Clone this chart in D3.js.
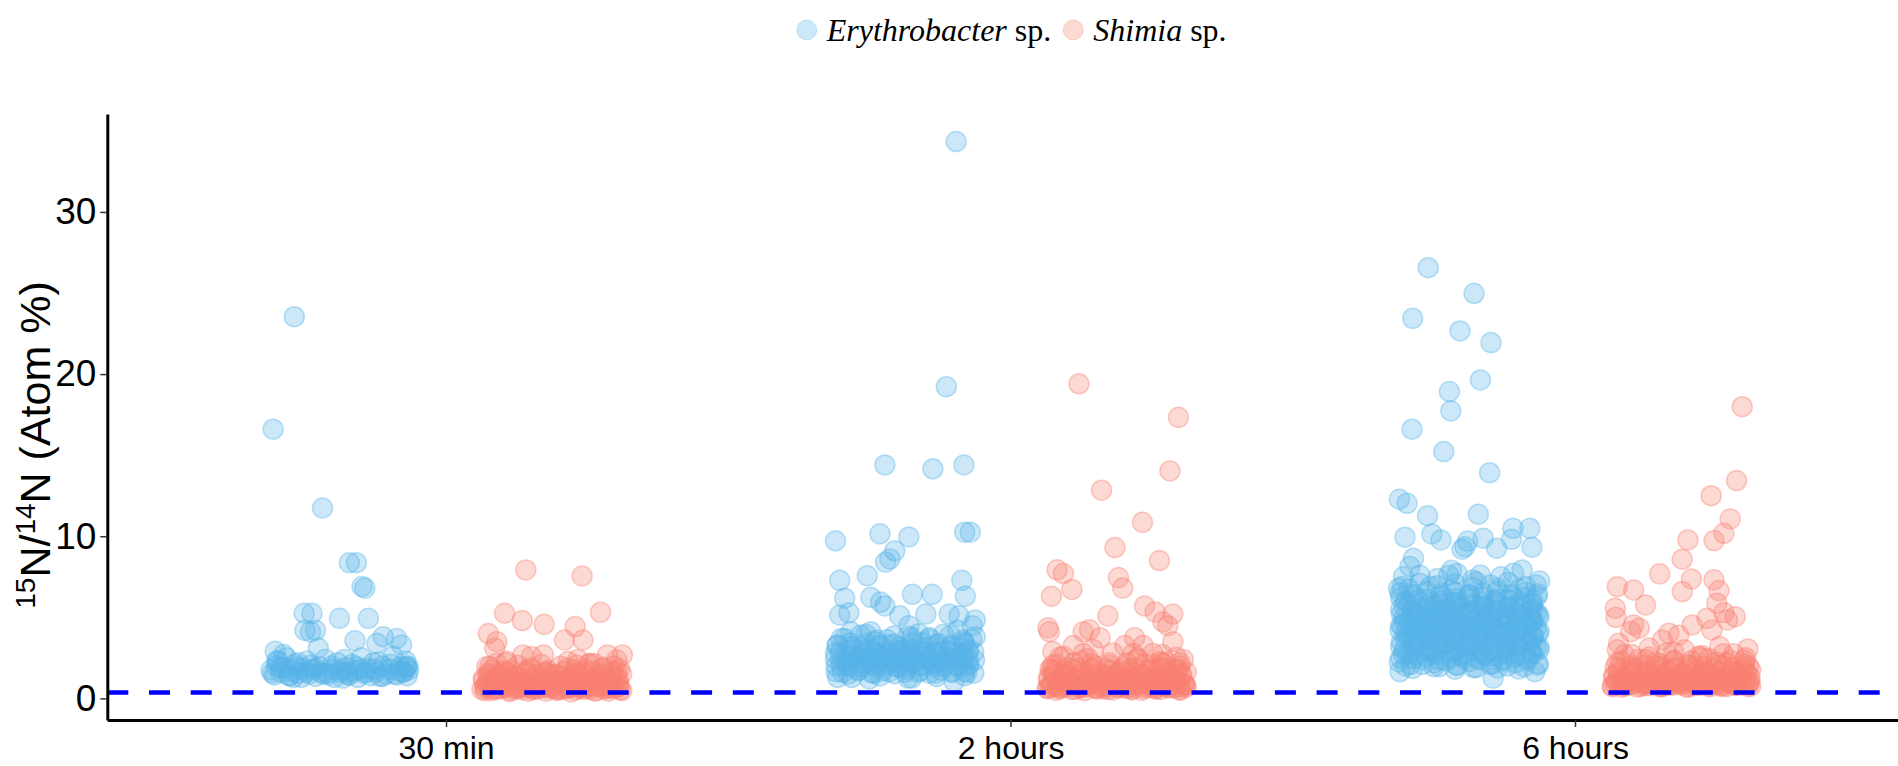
<!DOCTYPE html>
<html>
<head>
<meta charset="utf-8">
<script src="https://cdn.jsdelivr.net/npm/d3@7"></script>
<style>
  html, body { margin: 0; padding: 0; background: #fff; }
  svg { display: block; }
</style>
</head>
<body>
<svg id="chart" width="1898" height="766"></svg>
<script>
// Sampling times (x categories) and the two strains (dodged groups)
const timepoints = ["30 min", "2 hours", "6 hours"];
const species = ["Erythrobacter", "Shimia"];
const speciesColors = ["#56B4E9", "#FA8072"];
// Natural 15N abundance, drawn as the dashed reference line
const naturalAbundance = 0.366;
const yTicks = [0, 10, 20, 30];

// Single-cell measurements: [horizontal jitter (-1..1), 15N/14N atom %]
const erythrobacter30min = [
  [-0.65,23.54],[-0.95,16.6],[-0.25,11.74],[0.13,8.37],[0.23,8.37],[0.31,6.9],[0.35,6.8],
  [-0.51,5.25],[-0.4,5.25],[-0.01,4.94],[0.4,4.94],[-0.5,4.2],[-0.35,4.2],[-0.42,4.1],
  [-0.31,3.1],[0.21,3.56],[0.61,3.8],[0.8,3.7],[0.87,3.3],[0.52,3.4],[-0.92,2.9],[-0.8,2.7],
  [0.94,1.96],[0.9,1.65],
  [-0.98,1.75],[-0.93,1.45],[-0.88,2.3],[-0.84,1.6],[-0.8,1.9],[-0.76,2.5],[-0.72,1.4],[-0.68,1.7],
  [-0.64,2.1],[-0.6,1.55],[-0.55,1.3],[-0.52,1.85],[-0.47,2.3],[-0.44,1.5],[-0.4,1.75],[-0.35,1.35],
  [-0.3,1.95],[-0.26,1.6],[-0.21,2.4],[-0.17,1.45],[-0.12,1.8],[-0.08,1.3],[-0.04,2.2],[0.0,1.6],
  [0.04,1.25],[0.08,1.9],[0.12,1.45],[0.17,2.1],[0.21,1.7],[0.25,1.3],[0.3,2.5],[0.34,1.55],
  [0.38,1.85],[0.43,1.4],[0.47,2.2],[0.51,1.65],[0.56,1.35],[0.6,2.0],[0.65,1.5],[0.7,1.8],
  [0.75,2.6],[0.8,1.45],[0.85,1.95],[0.89,1.6],[0.93,2.3],[0.97,1.75],[0.95,1.4],[-0.9,2.0],
  [-0.62,1.9],[0.1,1.6],
  [-0.96,1.55],[-0.84,1.9],[-0.72,1.4],[-0.6,2.2],[-0.48,1.65],[-0.36,1.85],[-0.24,1.5],[-0.12,2.0],
  [0.0,1.75],[0.12,1.45],[0.24,1.95],[0.36,1.6],[0.48,1.8],[0.6,1.35],[0.72,2.1],[0.84,1.7],[0.96,2.0],
  [-0.9,2.3],[-0.66,1.3],[-0.42,2.05],[-0.18,1.55],[0.06,2.4],[0.3,1.8],[0.54,2.25],[0.78,1.5],[0.94,1.9]
];
const shimia30min = [
  [-0.37,7.92],[0.43,7.55],[0.69,5.31],[-0.67,5.25],[-0.42,4.8],[-0.11,4.57],[0.33,4.43],
  [-0.9,4.0],[-0.78,3.5],[0.18,3.6],[0.44,3.6],[-0.81,3.1],[-0.29,2.58],[-0.12,2.68],
  [0.79,2.68],[1.0,2.68],[0.92,2.37],[0.23,2.27],[0.37,2.4],[0.54,2.17],[-0.78,2.17],
  [-0.64,2.3],[-0.92,1.96],[-0.41,2.68],
  [-0.95,0.48],[-0.78,0.55],[-0.6,0.42],[-0.42,0.52],[-0.25,0.58],[-0.08,0.45],[0.1,0.53],
  [0.27,0.4],[0.45,0.56],[0.62,0.47],[0.8,0.44],[0.97,0.54],
  [-0.85,0.62],[-0.65,0.68],[-0.48,0.6],[-0.3,0.66],[-0.13,0.7],[0.05,0.6],[0.22,0.67],
  [0.4,0.63],[0.57,0.72],[0.75,0.61],[0.92,0.66],
  [-0.88,0.82],[-0.7,0.76],[-0.52,0.9],[-0.35,0.8],[-0.18,0.88],[0.0,0.74],[0.18,0.92],
  [0.36,0.8],[0.54,0.86],[0.71,0.78],[0.89,0.88],
  [-0.92,0.98],[-0.74,0.95],[-0.56,1.03],[-0.38,0.94],[-0.2,1.0],[-0.03,0.96],[0.14,1.04],
  [0.32,0.95],[0.5,1.0],[0.67,0.97],[0.84,1.02],
  [-0.97,1.1],[-0.8,1.18],[-0.63,1.06],[-0.46,1.22],[-0.28,1.12],[-0.1,1.16],[0.07,1.08],
  [0.24,1.2],[0.42,1.1],[0.6,1.17],[0.77,1.06],[0.94,1.14],
  [-0.9,1.42],[-0.72,1.52],[-0.55,1.38],[-0.37,1.56],[-0.2,1.44],[-0.02,1.5],[0.16,1.38],
  [0.33,1.54],[0.51,1.45],[0.68,1.48],[0.86,1.41],
  [-0.84,1.8],[-0.58,1.75],[-0.31,1.9],[-0.05,1.72],[0.22,1.86],[0.48,1.78],[0.74,1.92],[0.96,1.82],
  [-0.65,2.2],[-0.15,2.1],[0.35,2.05],[0.6,2.15],[0.88,2.0],
  [-0.99,0.55],[-0.86,0.47],[-0.73,0.62],[-0.59,0.5],[-0.46,0.66],[-0.33,0.44],[-0.19,0.58],[-0.06,0.63],
  [0.07,0.49],[0.21,0.6],[0.34,0.52],[0.47,0.67],[0.61,0.45],[0.74,0.57],[0.87,0.62],[0.99,0.48],
  [-0.93,0.78],[-0.8,0.92],[-0.66,0.72],[-0.53,0.85],[-0.39,0.97],[-0.26,0.75],[-0.13,0.88],[0.0,0.82],
  [0.14,0.95],[0.27,0.71],[0.41,0.87],[0.54,0.79],[0.68,0.93],[0.81,0.84],[0.94,0.74],
  [-0.97,1.25],[-0.83,1.05],[-0.7,1.32],[-0.56,1.15],[-0.43,1.02],[-0.29,1.28],[-0.16,1.12],[-0.02,1.35],
  [0.11,1.04],[0.25,1.22],[0.38,1.3],[0.52,1.08],[0.65,1.26],[0.79,1.18],[0.92,1.33],
  [-0.9,1.55],[-0.76,1.35],[-0.63,1.62],[-0.49,1.44],[-0.36,1.7],[-0.22,1.38],[-0.09,1.6],[0.05,1.47],
  [0.18,1.66],[0.32,1.34],[0.45,1.58],[0.59,1.68],[0.72,1.4],[0.86,1.63],[0.99,1.5],
  [-0.95,0.68],[-0.81,0.58],[-0.68,0.8],[-0.54,0.62],[-0.41,0.74],[-0.27,0.55],[-0.14,0.86],[0.0,0.66],
  [0.13,0.6],[0.27,0.83],[0.4,0.7],[0.54,0.57],[0.67,0.76],[0.81,0.65],[0.95,0.88],
  [-0.88,1.95],[-0.68,1.7],[-0.48,2.05],[-0.28,1.8],[-0.08,1.62],[0.12,1.98],[0.32,1.75],[0.52,2.1],
  [0.72,1.85],[0.92,1.68]
];
const erythrobacter2h = [
  [0.73,34.34],[0.59,19.22],[-0.28,14.4],[0.4,14.16],[0.84,14.4],[-0.98,9.72],[-0.35,10.15],
  [0.06,9.96],[0.85,10.25],[0.93,10.25],[-0.14,9.1],[-0.21,8.6],[-0.27,8.4],[-0.92,7.28],
  [-0.53,7.57],[0.81,7.28],[-0.85,6.18],[-0.48,6.23],[-0.34,5.94],[-0.28,5.7],[0.11,6.42],
  [0.39,6.42],[0.86,6.3],[-0.92,5.14],[-0.79,5.28],[-0.07,5.09],[0.3,5.2],[0.63,5.2],
  [0.77,5.09],[1.0,4.84],[-0.76,4.11],[-0.48,4.11],[0.06,4.48],[0.2,3.99],[0.75,4.2],
  [0.96,4.48],[1.0,3.8],
  [-0.9,3.7],[-0.62,3.9],[-0.4,3.6],[-0.15,3.85],[0.1,3.75],[0.35,3.65],[0.55,3.95],[0.82,3.6],
  [-0.95,3.3],[-0.75,3.2],[-0.55,3.4],[-0.35,3.25],[-0.15,3.35],[0.05,3.15],[0.25,3.45],
  [0.45,3.3],[0.65,3.2],[0.85,3.35],
  [-0.98,2.8],[-0.8,2.9],[-0.62,2.7],[-0.44,2.85],[-0.26,2.75],[-0.08,2.95],[0.1,2.7],
  [0.28,2.85],[0.46,2.8],[0.64,2.9],[0.82,2.75],[0.98,2.85],
  [-0.9,2.4],[-0.72,2.35],[-0.54,2.5],[-0.36,2.3],[-0.18,2.45],[0.0,2.4],[0.18,2.35],
  [0.36,2.5],[0.54,2.3],[0.72,2.45],[0.9,2.4],
  [-0.97,2.0],[-0.8,2.05],[-0.63,1.95],[-0.46,2.1],[-0.29,2.0],[-0.12,1.95],[0.05,2.05],
  [0.22,2.0],[0.39,2.1],[0.56,1.95],[0.73,2.0],[0.9,2.05],
  [-0.88,1.6],[-0.66,1.7],[-0.44,1.55],[-0.22,1.65],[0.0,1.6],[0.22,1.7],[0.44,1.55],
  [0.66,1.65],[0.88,1.6],
  [-0.95,1.3],[-0.5,1.2],[0.1,1.25],[0.7,1.06],
  [-0.7,2.6],[-0.3,2.65],[0.2,2.6],[0.6,2.55],[0.9,3.0],[-0.5,3.0],[0.0,3.0],[0.4,2.2],
  [-0.1,2.2],[-0.6,2.2],
  [-0.97,1.65],[-0.8,1.5],[-0.64,1.78],[-0.47,1.58],[-0.31,1.7],[-0.14,1.52],[0.02,1.8],
  [0.19,1.62],[0.35,1.55],[0.52,1.74],[0.68,1.6],[0.85,1.68],[0.98,1.56],
  [-0.9,2.05],[-0.74,1.92],[-0.57,2.18],[-0.41,2.0],[-0.24,2.12],[-0.08,1.95],[0.09,2.2],
  [0.25,2.08],[0.42,1.98],[0.58,2.15],[0.75,2.02],[0.91,2.1],
  [-0.98,2.45],[-0.82,2.32],[-0.65,2.58],[-0.49,2.4],[-0.32,2.52],[-0.16,2.35],[0.01,2.6],
  [0.17,2.48],[0.34,2.38],[0.5,2.55],[0.67,2.42],[0.83,2.5],[0.99,2.36],
  [-0.91,2.85],[-0.75,2.72],[-0.58,2.98],[-0.42,2.8],[-0.25,2.92],[-0.09,2.75],[0.08,3.0],
  [0.24,2.88],[0.41,2.78],[0.57,2.95],[0.74,2.82],[0.9,2.9],
  [-0.96,3.25],[-0.78,3.4],[-0.6,3.15],[-0.42,3.5],[-0.24,3.3],[-0.06,3.2],[0.12,3.45],
  [0.3,3.12],[0.48,3.38],[0.66,3.28],[0.84,3.48],
  [-0.85,3.7],[-0.55,3.95],[-0.25,3.62],[0.05,3.85],[0.35,3.75],[0.65,3.9],[0.95,3.65],
  [-0.75,1.3],[-0.35,1.38],[0.05,1.25],[0.45,1.35],[0.85,1.4]
];
const shimia2h = [
  [-0.53,19.4],[0.88,17.33],[0.76,14.03],[-0.21,12.84],[0.37,10.86],[-0.02,9.3],[0.61,8.5],
  [-0.84,7.93],[-0.75,7.7],[-0.63,6.72],[-0.92,6.3],[0.03,7.45],[0.09,6.8],[-0.12,5.09],
  [0.4,5.7],[0.55,5.33],[0.8,5.2],[0.66,4.72],[0.73,4.48],[-0.97,4.35],[-0.95,4.11],
  [-0.47,4.11],[-0.38,4.23],[0.26,3.74],[-0.9,2.89],[-0.92,1.8],
  [0.38,3.26],[0.52,2.77],[0.62,2.28],[0.8,3.5],[0.85,2.53],[0.24,2.77],[0.12,3.26],
  [-0.23,3.74],[-0.33,3.01],[-0.47,2.77],[-0.61,3.26],[-0.8,2.53],
  [-0.97,0.6],[-0.8,0.66],[-0.63,0.55],[-0.46,0.68],[-0.29,0.6],[-0.12,0.56],[0.05,0.64],
  [0.22,0.52],[0.39,0.62],[0.56,0.58],[0.73,0.68],[0.9,0.55],
  [-0.9,0.85],[-0.72,0.9],[-0.55,0.8],[-0.37,0.88],[-0.2,0.82],[-0.02,0.92],[0.16,0.8],
  [0.33,0.86],[0.51,0.9],[0.68,0.84],[0.86,0.88],[0.98,0.8],
  [-0.96,1.15],[-0.78,1.1],[-0.6,1.2],[-0.42,1.12],[-0.24,1.18],[-0.06,1.1],[0.12,1.2],
  [0.3,1.14],[0.48,1.16],[0.66,1.1],[0.84,1.2],
  [-0.88,1.45],[-0.7,1.5],[-0.52,1.4],[-0.34,1.48],[-0.16,1.42],[0.02,1.5],[0.2,1.44],
  [0.38,1.46],[0.56,1.4],[0.74,1.5],[0.92,1.45],
  [-0.94,1.8],[-0.74,1.75],[-0.54,1.85],[-0.34,1.78],[-0.14,1.82],[0.06,1.76],[0.26,1.86],
  [0.46,1.8],[0.66,1.84],[0.86,1.78],
  [-0.85,2.1],[-0.6,2.2],[-0.35,2.15],[-0.1,2.05],[0.15,2.2],[0.4,2.1],[0.65,2.15],[0.9,2.2],
  [-0.85,0.72],[-0.5,0.72],[-0.15,0.74],[0.2,0.7],[0.55,0.72],[0.9,0.7],
  [-0.68,1.0],[-0.33,1.0],[0.02,1.02],[0.37,0.98],[0.72,1.0],
  [-0.98,0.62],[-0.85,0.5],[-0.72,0.7],[-0.58,0.56],[-0.45,0.48],[-0.31,0.66],[-0.18,0.6],[-0.05,0.52],
  [0.09,0.72],[0.22,0.58],[0.36,0.5],[0.49,0.68],[0.63,0.55],[0.76,0.64],[0.9,0.5],[0.99,0.7],
  [-0.92,0.9],[-0.78,0.78],[-0.65,1.0],[-0.51,0.84],[-0.38,0.95],[-0.24,0.76],[-0.11,1.02],[0.03,0.88],
  [0.16,0.8],[0.3,0.98],[0.43,0.86],[0.57,1.04],[0.7,0.79],[0.84,0.93],[0.97,0.87],
  [-0.96,1.3],[-0.82,1.12],[-0.69,1.4],[-0.55,1.22],[-0.42,1.08],[-0.28,1.36],[-0.15,1.18],[-0.01,1.44],
  [0.12,1.1],[0.26,1.28],[0.39,1.38],[0.53,1.16],[0.66,1.34],[0.8,1.24],[0.93,1.42],
  [-0.89,1.65],[-0.75,1.5],[-0.62,1.78],[-0.48,1.58],[-0.35,1.85],[-0.21,1.52],[-0.08,1.72],[0.06,1.6],
  [0.19,1.82],[0.33,1.48],[0.46,1.7],[0.6,1.88],[0.73,1.55],[0.87,1.76],[0.99,1.62],
  [-0.94,0.7],[-0.8,0.6],[-0.67,0.82],[-0.53,0.66],[-0.4,0.76],[-0.26,0.58],[-0.13,0.88],[0.01,0.68],
  [0.14,0.62],[0.28,0.85],[0.41,0.72],[0.55,0.6],[0.68,0.78],[0.82,0.67],[0.95,0.9],
  [-0.9,2.05],[-0.7,1.9],[-0.5,2.3],[-0.3,2.0],[-0.1,2.2],[0.1,1.95],[0.3,2.4],[0.5,2.1],
  [0.7,2.25],[0.9,1.98],
  [-0.75,2.6],[-0.4,2.45],[-0.05,2.8],[0.3,2.5],[0.65,2.7],[0.95,2.4]
];
const erythrobacter6h = [
  [-0.58,26.56],[0.07,24.98],[-0.8,23.44],[-0.13,22.66],[0.31,21.94],[0.16,19.64],[-0.28,18.92],
  [-0.26,17.73],[-0.81,16.6],[-0.36,15.22],[0.29,13.92],[-0.99,12.28],[-0.88,12.03],[-0.59,11.27],
  [0.13,11.36],[-0.91,9.94],[-0.53,10.14],[-0.4,9.77],[-0.02,9.7],[-0.06,9.35],[-0.1,9.2],
  [0.62,10.49],[0.6,9.81],[0.86,10.49],[0.89,9.32],[0.2,9.88],[0.39,9.26],[-0.79,8.64],
  [-0.84,8.13],[-0.25,7.9],[-0.17,7.7],[-0.29,7.6],[0.16,7.61],[0.63,7.72],[0.75,7.92],
  [1.0,7.24],[-1.0,6.79],[-0.93,7.51],[-0.98,1.65],[0.34,1.25],[0.93,1.65],[-0.7,7.6],
  [-0.45,7.4],[0.45,7.5],[0.05,7.3],
  [-0.95,6.9],[-0.7,7.1],[-0.45,6.95],[-0.2,7.05],[0.05,6.85],[0.3,7.0],[0.55,7.15],[0.8,6.9],
  [-0.98,6.5],[-0.8,6.4],[-0.6,6.6],[-0.4,6.45],[-0.2,6.55],[0.0,6.35],[0.2,6.5],[0.4,6.6],
  [0.6,6.4],[0.8,6.55],[0.97,6.45],
  [-0.9,6.0],[-0.72,6.1],[-0.54,5.9],[-0.36,6.05],[-0.18,5.95],[0.0,6.1],[0.18,5.9],[0.36,6.0],
  [0.54,6.1],[0.72,5.95],[0.9,6.05],
  [-0.97,5.5],[-0.8,5.45],[-0.63,5.6],[-0.46,5.4],[-0.29,5.55],[-0.12,5.5],[0.05,5.45],
  [0.22,5.6],[0.39,5.4],[0.56,5.55],[0.73,5.5],[0.9,5.45],
  [-0.92,5.0],[-0.74,5.1],[-0.56,4.95],[-0.38,5.05],[-0.2,4.9],[-0.02,5.1],[0.16,5.0],
  [0.34,4.95],[0.52,5.05],[0.7,5.1],[0.88,4.9],[0.99,5.0],
  [-0.97,4.5],[-0.79,4.45],[-0.61,4.6],[-0.43,4.4],[-0.25,4.55],[-0.07,4.5],[0.11,4.45],
  [0.29,4.6],[0.47,4.4],[0.65,4.55],[0.83,4.5],
  [-0.9,4.0],[-0.72,4.1],[-0.54,3.95],[-0.36,4.05],[-0.18,3.9],[0.0,4.1],[0.18,4.0],
  [0.36,3.95],[0.54,4.05],[0.72,4.1],[0.9,3.9],[0.98,4.0],
  [-0.96,3.5],[-0.78,3.45],[-0.6,3.6],[-0.42,3.4],[-0.24,3.55],[-0.06,3.5],[0.12,3.45],
  [0.3,3.6],[0.48,3.4],[0.66,3.55],[0.84,3.5],
  [-0.92,3.0],[-0.74,3.1],[-0.56,2.95],[-0.38,3.05],[-0.2,2.9],[-0.02,3.1],[0.16,3.0],
  [0.34,2.95],[0.52,3.05],[0.7,3.1],[0.88,2.9],[0.99,3.0],
  [-0.97,2.5],[-0.79,2.45],[-0.61,2.6],[-0.43,2.4],[-0.25,2.55],[-0.07,2.5],[0.11,2.45],
  [0.29,2.6],[0.47,2.4],[0.65,2.55],[0.83,2.5],
  [-0.9,2.0],[-0.66,2.1],[-0.42,1.95],[-0.18,2.05],[0.06,1.9],[0.3,2.1],[0.54,2.0],[0.78,1.95],[0.97,2.05],
  [-0.85,5.75],[-0.5,5.7],[-0.15,5.8],[0.2,5.75],[0.55,5.7],[0.9,5.8],
  [-0.75,5.2],[-0.4,5.25],[-0.05,5.2],[0.3,5.25],[0.65,5.2],[0.95,5.25],
  [-0.85,4.75],[-0.5,4.8],[-0.15,4.75],[0.2,4.7],[0.55,4.8],[0.9,4.75],
  [-0.7,4.25],[-0.35,4.3],[0.0,4.25],[0.35,4.3],[0.7,4.25],[0.95,4.3],
  [-0.85,3.75],[-0.5,3.8],[-0.15,3.75],[0.2,3.7],[0.55,3.8],[0.9,3.75],
  [-0.75,3.25],[-0.4,3.3],[-0.05,3.25],[0.3,3.3],[0.65,3.25],[0.95,3.2],
  [-0.85,2.75],[-0.5,2.8],[-0.15,2.75],[0.2,2.7],[0.55,2.8],[0.9,2.75],
  [-0.99,2.25],[-0.83,2.1],[-0.66,2.4],[-0.5,2.18],[-0.33,2.32],[-0.17,2.05],[0.0,2.28],
  [0.16,2.38],[0.33,2.12],[0.49,2.3],[0.66,2.2],[0.82,2.35],[0.98,2.15],
  [-0.93,2.75],[-0.77,2.62],[-0.6,2.88],[-0.44,2.7],[-0.27,2.82],[-0.11,2.65],[0.06,2.9],
  [0.22,2.72],[0.39,2.6],[0.55,2.85],[0.72,2.68],[0.88,2.8],
  [-0.97,3.2],[-0.8,3.35],[-0.64,3.12],[-0.47,3.28],[-0.31,3.4],[-0.14,3.15],[0.02,3.3],
  [0.19,3.22],[0.35,3.38],[0.52,3.1],[0.68,3.25],[0.85,3.34],[0.99,3.18],
  [-0.9,3.7],[-0.74,3.85],[-0.57,3.62],[-0.41,3.78],[-0.24,3.9],[-0.08,3.65],[0.09,3.82],
  [0.25,3.68],[0.42,3.88],[0.58,3.6],[0.75,3.75],[0.91,3.84],
  [-0.98,4.2],[-0.82,4.35],[-0.65,4.12],[-0.49,4.28],[-0.32,4.4],[-0.16,4.15],[0.01,4.3],
  [0.17,4.22],[0.34,4.38],[0.5,4.1],[0.67,4.25],[0.83,4.34],[0.99,4.18],
  [-0.91,4.7],[-0.75,4.85],[-0.58,4.62],[-0.42,4.78],[-0.25,4.9],[-0.09,4.65],[0.08,4.82],
  [0.24,4.68],[0.41,4.88],[0.57,4.6],[0.74,4.75],[0.9,4.84],
  [-0.96,5.2],[-0.8,5.35],[-0.63,5.12],[-0.47,5.28],[-0.3,5.4],[-0.14,5.15],[0.03,5.3],
  [0.19,5.22],[0.36,5.38],[0.52,5.1],[0.69,5.25],[0.85,5.34],[0.98,5.18],
  [-0.92,5.7],[-0.76,5.85],[-0.59,5.62],[-0.43,5.78],[-0.26,5.9],[-0.1,5.65],[0.07,5.82],
  [0.23,5.68],[0.4,5.88],[0.56,5.6],[0.73,5.75],[0.89,5.84],
  [-0.97,6.2],[-0.78,6.35],[-0.58,6.1],[-0.39,6.3],[-0.19,6.15],[0.0,6.4],[0.2,6.25],
  [0.39,6.12],[0.59,6.38],[0.78,6.2],[0.96,6.3],
  [-0.85,6.75],[-0.55,6.9],[-0.25,6.65],[0.1,7.2],[0.4,6.8],[0.7,6.7],[0.95,7.0],
  [-0.8,1.85],[-0.5,1.95],[-0.2,1.8],[0.1,1.9],[0.4,1.88],[0.7,1.82],
  [-0.95,4.5],[-0.7,3.9],[-0.45,4.9],[-0.2,3.6],[0.05,4.4],[0.3,4.8],[0.55,3.7],[0.8,4.6]
];
const shimia6h = [
  [0.87,17.99],[0.79,13.43],[0.43,12.5],[0.7,11.07],[0.61,10.18],[0.47,9.73],[0.1,9.77],
  [0.02,8.58],[-0.3,7.68],[0.15,7.37],[0.02,6.59],[0.47,7.31],[0.54,6.65],[0.51,5.87],
  [0.61,5.29],[0.77,5.04],[-0.9,6.89],[-0.67,6.69],[-0.5,5.76],[-0.93,5.56],[-0.92,5.0],
  [-0.67,4.53],[-0.59,4.33],[-0.71,4.12],[-0.17,4.02],[0.16,4.53],[0.37,4.94],[0.44,4.22],
  [0.66,4.84],[-0.26,3.6],[-0.03,3.9],[-0.88,3.4],[-0.9,3.0],
  [-0.97,0.72],[-0.8,0.8],[-0.62,0.7],[-0.45,0.78],[-0.28,0.74],[-0.1,0.82],[0.08,0.7],
  [0.25,0.8],[0.42,0.72],[0.6,0.76],[0.78,0.82],[0.95,0.74],
  [-0.9,1.0],[-0.72,1.06],[-0.55,0.96],[-0.37,1.1],[-0.2,1.02],[-0.02,0.98],[0.16,1.08],
  [0.33,1.0],[0.51,1.05],[0.68,0.97],[0.86,1.04],
  [-0.95,1.3],[-0.78,1.25],[-0.6,1.35],[-0.42,1.28],[-0.24,1.4],[-0.06,1.32],[0.12,1.24],
  [0.3,1.36],[0.48,1.3],[0.66,1.26],[0.84,1.38],[0.98,1.3],
  [-0.88,1.6],[-0.7,1.66],[-0.52,1.56],[-0.34,1.7],[-0.16,1.62],[0.02,1.58],[0.2,1.68],
  [0.38,1.6],[0.56,1.65],[0.74,1.57],[0.92,1.7],
  [-0.93,1.95],[-0.72,1.9],[-0.51,2.02],[-0.3,1.98],[-0.09,1.92],[0.12,2.0],[0.33,1.96],
  [0.54,2.05],[0.75,1.9],[0.96,1.98],
  [-0.85,2.3],[-0.6,2.4],[-0.35,2.25],[-0.1,2.35],[0.15,2.3],[0.4,2.45],[0.65,2.2],[0.9,2.35],
  [-0.7,2.7],[-0.2,2.8],[0.3,2.65],[0.75,2.75],
  [-0.45,3.1],[0.05,3.0],[0.55,3.2],[0.95,3.05],
  [-0.85,0.88],[-0.5,0.9],[-0.15,0.86],[0.2,0.88],[0.55,0.84],[0.9,0.9],
  [-0.68,1.15],[-0.33,1.18],[0.02,1.14],[0.37,1.17],[0.72,1.16],
  [-0.97,0.78],[-0.84,0.7],[-0.7,0.86],[-0.57,0.74],[-0.43,0.9],[-0.3,0.72],[-0.16,0.82],[-0.03,0.88],
  [0.11,0.7],[0.24,0.84],[0.38,0.76],[0.51,0.92],[0.65,0.73],[0.78,0.8],[0.92,0.87],[0.99,0.75],
  [-0.91,1.05],[-0.77,0.95],[-0.64,1.15],[-0.5,1.0],[-0.37,1.12],[-0.23,0.94],[-0.1,1.2],[0.04,1.06],
  [0.17,0.98],[0.31,1.16],[0.44,1.02],[0.58,1.1],[0.71,0.96],[0.85,1.18],[0.98,1.04],
  [-0.95,1.4],[-0.81,1.25],[-0.68,1.5],[-0.54,1.32],[-0.41,1.2],[-0.27,1.46],[-0.14,1.3],[0.0,1.55],
  [0.13,1.24],[0.27,1.42],[0.4,1.52],[0.54,1.28],[0.67,1.45],[0.81,1.35],[0.94,1.5],
  [-0.88,1.8],[-0.74,1.62],[-0.61,1.9],[-0.47,1.7],[-0.34,1.98],[-0.2,1.65],[-0.07,1.85],[0.07,1.74],
  [0.2,1.95],[0.34,1.6],[0.47,1.82],[0.61,2.0],[0.74,1.68],[0.88,1.88],[0.99,1.75],
  [-0.93,0.85],[-0.79,0.76],[-0.66,0.95],[-0.52,0.8],[-0.39,0.9],[-0.25,0.74],[-0.12,1.0],[0.02,0.84],
  [0.15,0.78],[0.29,0.98],[0.42,0.88],[0.56,0.75],[0.69,0.92],[0.83,0.82],[0.96,0.96],
  [-0.9,2.2],[-0.7,2.05],[-0.5,2.4],[-0.3,2.15],[-0.1,2.3],[0.1,2.08],[0.3,2.5],[0.5,2.25],
  [0.7,2.35],[0.9,2.1],
  [-0.8,2.7],[-0.45,2.55],[-0.1,2.85],[0.25,2.6],[0.6,2.75],[0.92,2.5]
];

const groups = [
  { time: "30 min",  sp: 0, points: erythrobacter30min },
  { time: "30 min",  sp: 1, points: shimia30min },
  { time: "2 hours", sp: 0, points: erythrobacter2h },
  { time: "2 hours", sp: 1, points: shimia2h },
  { time: "6 hours", sp: 0, points: erythrobacter6h },
  { time: "6 hours", sp: 1, points: shimia6h }
];

const svg = d3.select("#chart");
const panel = { left: 107.3, right: 1913.7, top: 114, bottom: 720 };
const pointRadius = 10;
const dodgeOffset = [-0.1875, 0.1875];   // fraction of category step
const jitterHalfWidth = 0.125;           // fraction of category step
const axisFont = "'Liberation Sans', Arial, sans-serif";

// y scale trained on the data and reference line, expanded by 5% each side
const allValues = groups.flatMap(g => g.points.map(p => p[1])).concat([naturalAbundance]);
const [yMin, yMax] = d3.extent(allValues);
const pad = (yMax - yMin) * 0.05;
const y = d3.scaleLinear().domain([yMin - pad, yMax + pad]).range([panel.bottom, panel.top]);

const x = d3.scalePoint().domain(timepoints).range([panel.left, panel.right]).padding(0.6);
const step = x.step();

// points
const pointsLayer = svg.append("g");
groups.forEach(g => {
  const col = speciesColors[g.sp];
  pointsLayer.append("g")
    .selectAll("circle")
    .data(g.points)
    .join("circle")
    .attr("cx", d => x(g.time) + (dodgeOffset[g.sp] + d[0] * jitterHalfWidth) * step)
    .attr("cy", d => y(d[1]))
    .attr("r", pointRadius)
    .attr("fill", col)
    .attr("fill-opacity", 0.3)
    .attr("stroke", col)
    .attr("stroke-opacity", 0.4)
    .attr("stroke-width", 1.5);
});

// natural abundance reference line
svg.append("line")
  .attr("x1", panel.left).attr("x2", panel.right)
  .attr("y1", y(naturalAbundance)).attr("y2", y(naturalAbundance))
  .attr("stroke", "#0000FF")
  .attr("stroke-width", 4.5)
  .attr("stroke-dasharray", "21,20.7");

// axes
const yAxis = svg.append("g")
  .attr("transform", `translate(${panel.left},0)`)
  .call(d3.axisLeft(y).tickValues(yTicks).tickSize(7).tickSizeOuter(0).tickPadding(4));
const xAxis = svg.append("g")
  .attr("transform", `translate(0,${panel.bottom})`)
  .call(d3.axisBottom(x).tickSize(7).tickSizeOuter(0).tickPadding(9));

[yAxis, xAxis].forEach(a => {
  a.select(".domain").attr("stroke", "#000").attr("stroke-width", 3);
  a.selectAll(".tick line").attr("stroke", "#333").attr("stroke-width", 1.5);
  a.selectAll(".tick text").attr("fill", "#000").style("font-family", axisFont);
});
yAxis.selectAll(".tick text").style("font-size", "37px");
xAxis.selectAll(".tick text").style("font-size", "32px");

// y axis title with superscript isotope masses
const yTitle = svg.append("text")
  .attr("transform", `translate(50,${(panel.top + panel.bottom) / 2 + 28}) rotate(-90)`)
  .attr("text-anchor", "middle")
  .style("font-family", axisFont)
  .style("font-size", "43px")
  .attr("fill", "#000");
yTitle.append("tspan").attr("baseline-shift", "super").style("font-size", "28px").text("15");
yTitle.append("tspan").text("N/");
yTitle.append("tspan").attr("baseline-shift", "super").style("font-size", "28px").text("14");
yTitle.append("tspan").text("N (Atom %)");

// legend: key circle followed by italic genus name and " sp."
const legend = svg.append("g");
const legendY = 30;
const keyGap = 20;
let cursor = 806.7;
species.forEach((name, i) => {
  legend.append("circle")
    .attr("cx", cursor).attr("cy", legendY).attr("r", pointRadius)
    .attr("fill", speciesColors[i]).attr("fill-opacity", 0.3)
    .attr("stroke", speciesColors[i]).attr("stroke-opacity", 0.3);
  const t = legend.append("text")
    .attr("x", cursor + keyGap).attr("y", legendY + 11)
    .style("font-family", "'Liberation Serif', 'Times New Roman', serif")
    .style("font-size", "32px")
    .attr("fill", "#000");
  t.append("tspan").style("font-style", "italic").text(name);
  t.append("tspan").text(" sp.");
  cursor = cursor + keyGap + t.node().getComputedTextLength() + keyGap + 2;
});
</script>
</body>
</html>
